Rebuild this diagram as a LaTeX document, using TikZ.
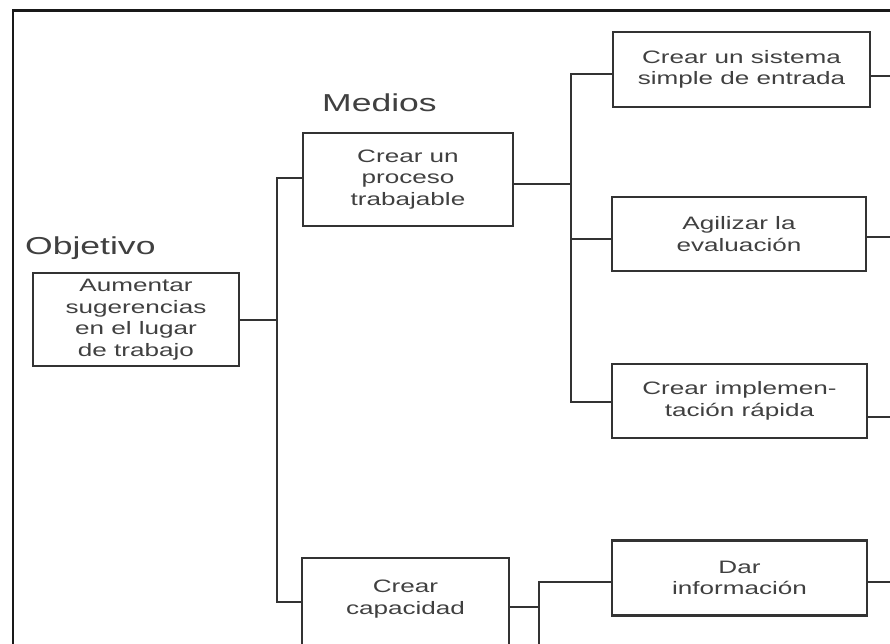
\documentclass[tikz,border=0pt]{standalone}
\usepackage{fontspec}
\setmainfont{Liberation Sans}[FakeStretch=1.45]
\newcommand\boxfont{\fontsize{18}{21.5}\selectfont}
\newcommand\headfont{\fontsize{24.5}{28}\selectfont}
\begin{document}
\begin{tikzpicture}[x=1pt,y=-1pt,
  frame/.style={line width=2.4pt, draw=black!90},
  box/.style={draw=black!80, line width=2.2pt, rectangle, inner sep=0pt,
              align=center, font=\boxfont, text=black!75},
  boxtext/.style={inner sep=0pt, align=center, font=\boxfont, text=black!75},
  link/.style={draw=black!80, line width=2pt},
  head/.style={inner sep=0pt, font=\headfont, text=black!75, anchor=base west}]
\useasboundingbox (0,0) rectangle (890,644);
\clip (0,0) rectangle (890,644);

% outer frame
\draw[frame] (13,700) -- (13,10.5) -- (900,10.5);

% headings
\node[head] (objh) at (25,254) {Objetivo};
\node[head] (medh) at (322,112) {Medios};

% objective
\node[box, minimum width=206, minimum height=93] (obj) at (136,319.5)
  {Aumentar\\sugerencias\\en el lugar\\de trabajo};

% means
\node[box, minimum width=210, minimum height=93] (proc) at (408,179.5)
  {Crear un\\proceso\\trabajable};
\node[box, minimum width=207, minimum height=130, anchor=north] (cap) at (405.5,557) {};
\node[boxtext] (capt) at (405.5,599) {Crear\\capacidad};

% sub-means
\node[box, minimum width=257, minimum height=75] (sis) at (741.5,69.5)
  {Crear un sistema\\simple de entrada};
\node[box, minimum width=254, minimum height=74] (agil) at (739,234)
  {Agilizar la\\evaluación};
\node[box, minimum width=255, minimum height=74] (impl) at (739.5,401)
  {Crear implemen-\\tación rápida};
\node[box, minimum width=255, minimum height=75] (dar) at (739.5,578)
  {Dar\\información};

% trunk positions
\coordinate (tr1) at (277,0);
\coordinate (tr2) at (571,0);
\coordinate (tr3) at (539,0);
\coordinate (rim) at (900,0);
\coordinate (floor) at (539,700);

% objective to means
\draw[link] (obj.east) -- (obj.east -| tr1);
\draw[link] ([yshift=1.5pt]proc.west) -| ([yshift=21pt]cap.west -| tr1) -- ([yshift=21pt]cap.west);

% first means to its sub-means
\draw[link] ([yshift=-4.5pt]proc.east) -- ([yshift=-4.5pt]proc.east -| tr2);
\draw[link] ([yshift=-4.5pt]sis.west) -| ([yshift=-1pt]impl.west -| tr2) -- ([yshift=-1pt]impl.west);
\draw[link] ([yshift=-5pt]agil.west) -- ([yshift=-5pt]agil.west -| tr2);

% second means to its sub-means
\draw[link] ([yshift=16pt]cap.east) -- ([yshift=16pt]cap.east -| tr3);
\draw[link] ([yshift=-4pt]dar.west) -| (floor);

% continuing branches on the right
\draw[link] ([yshift=-6.5pt]sis.east) -- ([yshift=-6.5pt]sis.east -| rim);
\draw[link] ([yshift=-3pt]agil.east) -- ([yshift=-3pt]agil.east -| rim);
\draw[link] ([yshift=-16pt]impl.east) -- ([yshift=-16pt]impl.east -| rim);
\draw[link] ([yshift=-4pt]dar.east) -- ([yshift=-4pt]dar.east -| rim);
\end{tikzpicture}
\end{document}
